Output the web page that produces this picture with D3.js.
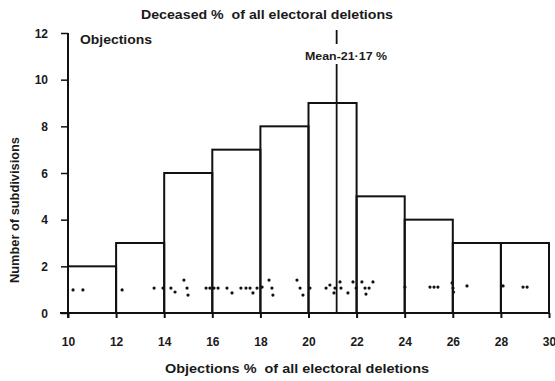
<!DOCTYPE html>
<html><head><meta charset="utf-8">
<script src="https://cdn.jsdelivr.net/npm/d3@7"></script>
<style>body{margin:0;background:#fff}svg{display:block}text{font-family:"Liberation Sans",Arial,sans-serif;font-weight:bold;fill:#1a1a1a}</style>
</head><body>
<svg id="c" width="555" height="381"></svg>
<script>
const binStarts = [10,12,14,16,18,20,22,24,26,28];
const binWidth = 2;
const counts = [2,3,6,7,8,9,5,4,3,3];
const xTickValues = [10,12,14,16,18,20,22,24,26,28,30];
const yTickValues = [0,2,4,6,8,10,12];
const meanValue = 21.17;
const dotValues = [10.21,10.62,12.25,13.58,13.95,14.28,14.45,14.82,14.95,14.99,15.74,15.90,16.07,16.24,16.61,16.82,17.19,17.40,17.57,17.69,17.86,18.07,18.36,18.48,18.52,19.52,19.65,19.77,20.06,20.73,20.89,21.06,21.10,21.31,21.35,21.64,21.85,21.98,22.22,22.35,22.39,22.52,22.68,24.01,25.05,25.22,25.38,25.97,26.01,26.03,26.59,28.09,28.92,29.09];
const dotLevels = [0.99,0.99,0.99,1.07,1.07,1.07,0.90,1.41,1.07,0.77,1.07,1.07,1.07,1.07,1.07,0.86,1.07,1.07,1.07,0.86,1.07,1.11,1.41,1.07,0.77,1.41,1.07,0.77,1.07,1.07,1.2,0.86,1.07,1.33,1.07,0.86,1.33,1.07,1.33,1.07,0.81,1.07,1.33,1.11,1.11,1.11,1.11,1.29,1.07,0.90,1.16,1.16,1.11,1.11];
const titleTop = "Deceased %  of all electoral deletions";
const titleBottom = "Objections %  of all electoral deletions";
const yTitle = "Number of subdivisions";
const seriesLabel = "Objections";
const meanLabel = "Mean-21\u00b717 %";

const svg = d3.select("#c");
const x = d3.scaleLinear().domain([10,30]).range([68,549]);
const y = d3.scaleLinear().domain([0,12]).range([313,33]);
const ink = "#111";

// bars
svg.append("g").selectAll("rect").data(binStarts).join("rect")
  .attr("x", d => x(d)).attr("width", d => x(d+binWidth)-x(d))
  .attr("y", (d,i) => y(counts[i])).attr("height", (d,i) => y(0)-y(counts[i]))
  .attr("fill","none").attr("stroke",ink).attr("stroke-width",2);

// x axis
const xAxis = d3.axisBottom(x).tickValues(xTickValues).tickSize(5).tickFormat(d3.format("d"));
const gx = svg.append("g").attr("transform",`translate(0,${y(0)})`).call(xAxis);
gx.select(".domain").attr("d",`M${x(10)-8},0H${x(30)}`).attr("stroke",ink).attr("stroke-width",2);
gx.selectAll(".tick line").attr("stroke",ink).attr("stroke-width",2);
gx.selectAll(".tick text").attr("y",33).attr("dy",0).style("font-size","12px").style("font-family","'Liberation Sans',Arial,sans-serif").style("font-weight","bold").attr("fill","#1a1a1a");

// y axis
const yAxis = d3.axisLeft(y).tickValues(yTickValues).tickSize(7).tickFormat(d3.format("d"));
const gy = svg.append("g").attr("transform",`translate(${x(10)},0)`).call(yAxis);
gy.select(".domain").attr("d",`M0,${y(12)}V${y(0)+5}`).attr("stroke",ink).attr("stroke-width",2);
gy.selectAll(".tick line").attr("stroke",ink).attr("stroke-width",1.5);
gy.selectAll(".tick text").attr("x",-20).attr("dy","0.35em").style("font-size","12px").style("font-family","'Liberation Sans',Arial,sans-serif").style("font-weight","bold").attr("fill","#1a1a1a");

// dots
svg.append("g").selectAll("circle").data(dotValues).join("circle")
  .attr("cx", d => x(d)).attr("cy",(d,i) => y(dotLevels[i])).attr("r",1.6).attr("fill",ink);

// mean line
const mx = x(meanValue);
svg.append("line").attr("x1",mx).attr("x2",mx).attr("y1",30).attr("y2",44).attr("stroke",ink).attr("stroke-width",1.8);
svg.append("line").attr("x1",mx).attr("x2",mx).attr("y1",64).attr("y2",y(0)).attr("stroke",ink).attr("stroke-width",1.8);
svg.append("text").attr("x",305).attr("y",60).attr("textLength",82).attr("lengthAdjust","spacingAndGlyphs").style("font-size","11.5px").text(meanLabel);

// titles
svg.append("text").attr("x",141).attr("y",19).attr("textLength",252).attr("lengthAdjust","spacingAndGlyphs").style("font-size","12px").style("white-space","pre").text(titleTop);
svg.append("text").attr("x",80).attr("y",44).attr("textLength",72).attr("lengthAdjust","spacingAndGlyphs").style("font-size","12px").text(seriesLabel);
svg.append("text").attr("x",165).attr("y",373).attr("textLength",264).attr("lengthAdjust","spacingAndGlyphs").style("font-size","12px").style("white-space","pre").text(titleBottom);
svg.append("text").attr("transform","translate(19,283) rotate(-90)").attr("x",0).attr("y",0).attr("textLength",146).attr("lengthAdjust","spacingAndGlyphs").style("font-size","12px").text(yTitle);
</script>
</body></html>
